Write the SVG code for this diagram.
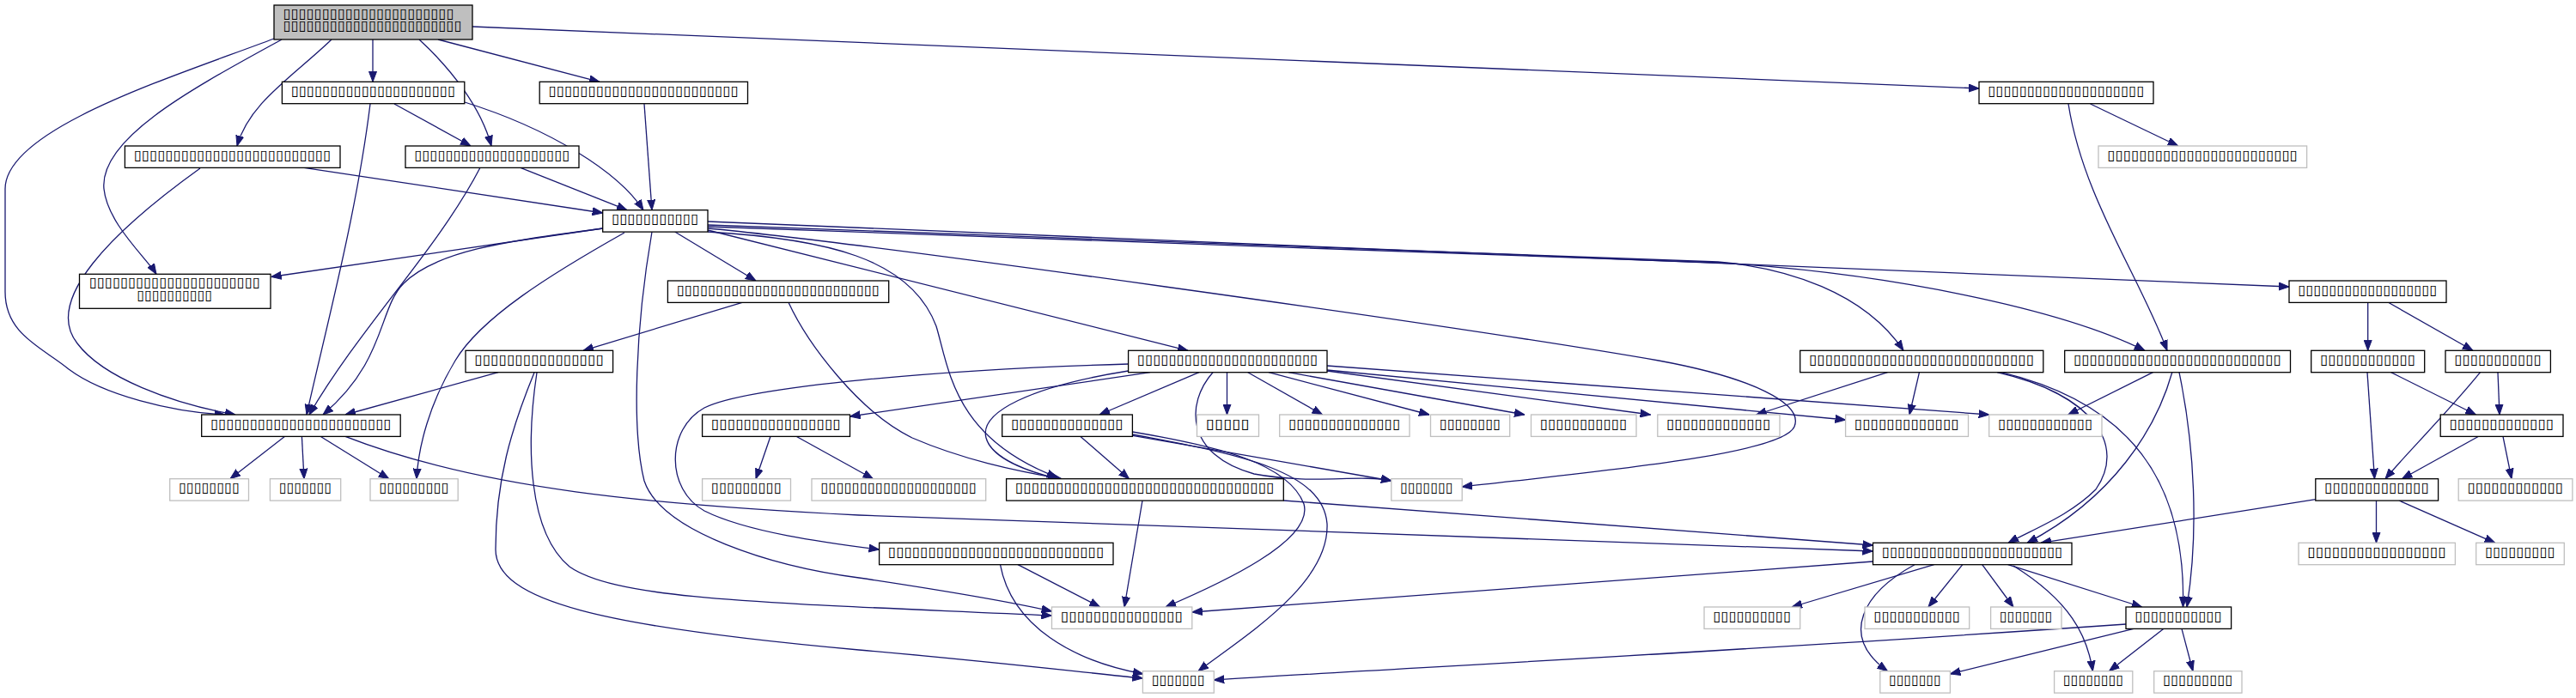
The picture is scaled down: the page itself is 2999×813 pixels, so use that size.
<svg xmlns="http://www.w3.org/2000/svg" width="2999" height="813" viewBox="0 0 2999 813">
<style>
.n rect{fill:#fff;stroke:#000;stroke-width:1.3}
.u rect{fill:#fff;stroke:#bfbfbf;stroke-width:1.3}
.t rect{fill:#bfbfbf;stroke:#000;stroke-width:1.3}
text{font-family:"DejaVu Sans",sans-serif;font-size:16px;fill:#000}
#edges path{fill:none;stroke:#191970;stroke-width:1.3;marker-end:url(#a)}
</style>
<defs>
<marker id="a" markerWidth="12" markerHeight="10" refX="12" refY="5" orient="auto" markerUnits="userSpaceOnUse"><path d="M0,0.5 L12,5 L0,9.5 z" fill="#191970" stroke="#191970" stroke-width="1"/></marker>
</defs>
<rect width="2999" height="813" fill="#fff"/>
<g id="edges">
<path d="M434,46 L434,95.3"/>
<path d="M510,46 L698,95.3"/>
<path d="M488,46 C525,80 560,125 572,170"/>
<path d="M386,46 C340,90 290,120 276,170"/>
<path d="M328,46 C230,100 115,160 121,220 C125,260 170,300 182,319.3"/>
<path d="M319,45 C200,90 6,150 6,220 L6,340 C6,390 50,405 80,430 C120,460 200,480 262,483"/>
<path d="M550,31 L2304,103"/>
<path d="M459,121 L548,170"/>
<path d="M541,119 C640,150 720,200 749,244.7"/>
<path d="M431,121 C415,250 380,380 357,483"/>
<path d="M750,121 L759,244.7"/>
<path d="M2433.6,121 L2535.7,170"/>
<path d="M2408,121 C2425,230 2490,320 2523,408.3"/>
<path d="M354,195.3 L701.7,248"/>
<path d="M233,196 C130,270 50,350 90,400 C120,440 200,470 274,483"/>
<path d="M606,195.3 L730,244.7"/>
<path d="M559,195.3 C510,290 420,380 360,483"/>
<path d="M701.7,266 L315.7,322.5"/>
<path d="M702,266 C600,280 510,290 470,330 C440,360 450,420 376,483"/>
<path d="M785.7,270 L880,327"/>
<path d="M727,271 C640,320 560,370 530,420 C500,470 487,520 485,557.7"/>
<path d="M759,270 C740,380 735,500 750,560 C770,620 900,660 1000,673 C1100,688 1180,702 1224.5,712"/>
<path d="M824,268 L1383,408.3"/>
<path d="M824,270 C960,278 1060,300 1090,380 C1105,430 1110,510 1231,556"/>
<path d="M824,266 C1000,282 1700,380 1931,420 C2040,440 2100,470 2089,497 C2075,530 1850,550 1702,567"/>
<path d="M824,258 L2665,334"/>
<path d="M824,262 L2000,305 C2080,312 2170,340 2216,408.3"/>
<path d="M824,264 L2000,306 C2200,318 2400,360 2497,408.3"/>
<path d="M864,352.3 L679,408.3"/>
<path d="M918,352.3 C940,400 1000,480 1062,510 C1120,535 1180,548 1236,557.7"/>
<path d="M2756.7,352.3 L2756.7,408.3"/>
<path d="M2780.5,352.3 L2879,408.3"/>
<path d="M580,433.7 L402,483"/>
<path d="M625,434 C612,520 615,620 663,660 C720,700 900,702 1224.5,717"/>
<path d="M622,434 C595,500 577,560 577,640 C577,700 700,730 1000,757 C1150,770 1250,782 1330.4,790"/>
<path d="M1339,433.7 L989.5,485"/>
<path d="M1313.6,424 C1100,430 870,450 820,475 C775,500 775,570 820,595 C870,620 960,632 1023.6,640"/>
<path d="M1313.6,432 C1200,450 1140,480 1148,510 C1155,535 1200,550 1232,557.7"/>
<path d="M1396,433.7 L1280,483"/>
<path d="M1428.5,433.7 L1428.5,483"/>
<path d="M1452.8,433.7 L1539.6,483"/>
<path d="M1477,433.7 L1664,483"/>
<path d="M1500,433.7 L1775,483"/>
<path d="M1545,432 L1921.6,483"/>
<path d="M1545,431 L2148.6,489"/>
<path d="M1545,426 L2315.7,483"/>
<path d="M1412,433.7 C1380,470 1380,530 1460,552 C1530,565 1580,552 1620,560"/>
<path d="M331.6,508.3 L268,557.7"/>
<path d="M351.4,508.3 L354,557.7"/>
<path d="M373,508.3 L452.8,557.7"/>
<path d="M402,508.3 C560,570 760,588 1000,600 L2180.5,642"/>
<path d="M897,508.3 L880,557.7"/>
<path d="M927,508.3 L1016.5,557.7"/>
<path d="M1257.7,508.3 L1314.6,557.7"/>
<path d="M1318.4,503 C1420,520 1500,540 1518,587 C1530,630 1420,680 1357,707"/>
<path d="M1318.4,506 C1450,530 1540,550 1545,610 C1548,680 1450,740 1395,781.7"/>
<path d="M1318.4,507.3 L1619.8,560"/>
<path d="M1330,583 L1309,707"/>
<path d="M1494.3,583 L2180.5,635"/>
<path d="M1185,657.7 L1280.6,707"/>
<path d="M1164.5,657.7 C1178,730 1250,770 1331,785"/>
<path d="M2180.5,654 L1387.8,713"/>
<path d="M2251.6,657.7 L2086,707"/>
<path d="M2284.8,657.7 L2245,707"/>
<path d="M2307.7,657.7 L2344,707"/>
<path d="M2337.7,657.7 L2493.7,707"/>
<path d="M2229,657.7 C2170,690 2140,740 2197.5,781.7"/>
<path d="M2344,659 C2410,700 2430,740 2436.4,781.7"/>
<path d="M2484,732.3 L2270.4,785"/>
<path d="M2519,732.3 L2455.5,781.7"/>
<path d="M2540,732.3 L2553,781.7"/>
<path d="M2475,727 C2000,760 1600,780 1413.3,792"/>
<path d="M2197.5,433.7 L2044.6,483"/>
<path d="M2234.5,433.7 L2223,483"/>
<path d="M2325,433.7 C2440,460 2475,520 2440,570 C2410,600 2370,615 2338,632.3"/>
<path d="M2330,433.7 C2480,470 2545,560 2541.5,707"/>
<path d="M2506.5,433.7 L2407.7,483"/>
<path d="M2528.8,433.7 C2510,500 2460,580 2360,632.3"/>
<path d="M2537,433.7 C2555,520 2560,620 2546,707"/>
<path d="M2756,433.7 L2764.5,557.7"/>
<path d="M2783.6,433.7 L2882.4,483"/>
<path d="M2908,433.7 L2910,483"/>
<path d="M2887.5,433.7 C2850,480 2800,530 2777,557.7"/>
<path d="M2885.6,508.3 L2796.4,557.7"/>
<path d="M2914,508.3 L2924,557.7"/>
<path d="M2695.8,581.7 L2376,632.3"/>
<path d="M2766.5,583 L2766.5,632.3"/>
<path d="M2793,583 L2904.7,632.3"/>
</g>
<g id="node-T" class="t"><rect x="319" y="6" width="231" height="40"/><text x="329.7" y="20.7" textLength="199" lengthAdjust="spacingAndGlyphs">▯▯▯▯▯▯▯▯▯▯▯▯▯▯▯▯▯▯▯▯▯▯</text><text x="329.7" y="35" textLength="208" lengthAdjust="spacingAndGlyphs">▯▯▯▯▯▯▯▯▯▯▯▯▯▯▯▯▯▯▯▯▯▯▯</text></g>
<g id="node-N2" class="n"><rect x="328.4" y="95.3" width="212.4" height="25.4"/><text x="338.9" y="110.8" textLength="191.4" lengthAdjust="spacingAndGlyphs">▯▯▯▯▯▯▯▯▯▯▯▯▯▯▯▯▯▯▯▯▯</text></g>
<g id="node-N3" class="n"><rect x="628.2" y="95.3" width="242.3" height="25.4"/><text x="638.7" y="110.8" textLength="221.3" lengthAdjust="spacingAndGlyphs">▯▯▯▯▯▯▯▯▯▯▯▯▯▯▯▯▯▯▯▯▯▯▯▯</text></g>
<g id="node-R1" class="n"><rect x="2304" y="95.3" width="203" height="25.4"/><text x="2314.5" y="110.8" textLength="182" lengthAdjust="spacingAndGlyphs">▯▯▯▯▯▯▯▯▯▯▯▯▯▯▯▯▯▯▯▯</text></g>
<g id="node-N4" class="n"><rect x="145.4" y="170" width="250.6" height="25.4"/><text x="155.9" y="185.5" textLength="229.6" lengthAdjust="spacingAndGlyphs">▯▯▯▯▯▯▯▯▯▯▯▯▯▯▯▯▯▯▯▯▯▯▯▯▯</text></g>
<g id="node-N5" class="n"><rect x="472" y="170" width="202" height="25.4"/><text x="482.5" y="185.5" textLength="181" lengthAdjust="spacingAndGlyphs">▯▯▯▯▯▯▯▯▯▯▯▯▯▯▯▯▯▯▯▯</text></g>
<g id="node-R1g" class="u"><rect x="2443" y="170" width="242.6" height="25.4"/><text x="2453.5" y="185.5" textLength="221.6" lengthAdjust="spacingAndGlyphs">▯▯▯▯▯▯▯▯▯▯▯▯▯▯▯▯▯▯▯▯▯▯▯▯</text></g>
<g id="node-C" class="n"><rect x="701.7" y="244.7" width="122.3" height="25.4"/><text x="712.2" y="260.2" textLength="101.3" lengthAdjust="spacingAndGlyphs">▯▯▯▯▯▯▯▯▯▯▯</text></g>
<g id="node-D" class="n"><rect x="92.5" y="319.3" width="222.5" height="40"/><text x="104" y="334" textLength="199" lengthAdjust="spacingAndGlyphs">▯▯▯▯▯▯▯▯▯▯▯▯▯▯▯▯▯▯▯▯▯▯</text><text x="159.4" y="348.5" textLength="88" lengthAdjust="spacingAndGlyphs">▯▯▯▯▯▯▯▯▯▯</text></g>
<g id="node-E" class="n"><rect x="777.4" y="327" width="257.3" height="25.4"/><text x="787.9" y="342.5" textLength="236.3" lengthAdjust="spacingAndGlyphs">▯▯▯▯▯▯▯▯▯▯▯▯▯▯▯▯▯▯▯▯▯▯▯▯▯▯</text></g>
<g id="node-R2" class="n"><rect x="2665" y="327" width="183" height="25.4"/><text x="2675.5" y="342.5" textLength="162" lengthAdjust="spacingAndGlyphs">▯▯▯▯▯▯▯▯▯▯▯▯▯▯▯▯▯▯</text></g>
<g id="node-F" class="n"><rect x="542" y="408.3" width="171.6" height="25.4"/><text x="552.5" y="423.8" textLength="150.6" lengthAdjust="spacingAndGlyphs">▯▯▯▯▯▯▯▯▯▯▯▯▯▯▯▯</text></g>
<g id="node-H2" class="n"><rect x="1313.6" y="408.3" width="231.4" height="25.4"/><text x="1324.1" y="423.8" textLength="210.4" lengthAdjust="spacingAndGlyphs">▯▯▯▯▯▯▯▯▯▯▯▯▯▯▯▯▯▯▯▯▯▯▯</text></g>
<g id="node-P1" class="n"><rect x="2095.7" y="408.3" width="283.1" height="25.4"/><text x="2106.2" y="423.8" textLength="262.1" lengthAdjust="spacingAndGlyphs">▯▯▯▯▯▯▯▯▯▯▯▯▯▯▯▯▯▯▯▯▯▯▯▯▯▯▯▯</text></g>
<g id="node-P2" class="n"><rect x="2403.7" y="408.3" width="262.8" height="25.4"/><text x="2414.2" y="423.8" textLength="241.8" lengthAdjust="spacingAndGlyphs">▯▯▯▯▯▯▯▯▯▯▯▯▯▯▯▯▯▯▯▯▯▯▯▯▯▯</text></g>
<g id="node-P3" class="n"><rect x="2690.7" y="408.3" width="132" height="25.4"/><text x="2701.2" y="423.8" textLength="111" lengthAdjust="spacingAndGlyphs">▯▯▯▯▯▯▯▯▯▯▯▯</text></g>
<g id="node-P4" class="n"><rect x="2847" y="408.3" width="122.4" height="25.4"/><text x="2857.5" y="423.8" textLength="101.4" lengthAdjust="spacingAndGlyphs">▯▯▯▯▯▯▯▯▯▯▯</text></g>
<g id="node-G" class="n"><rect x="234.7" y="483" width="231.5" height="25.4"/><text x="245.2" y="498.5" textLength="210.5" lengthAdjust="spacingAndGlyphs">▯▯▯▯▯▯▯▯▯▯▯▯▯▯▯▯▯▯▯▯▯▯▯</text></g>
<g id="node-H" class="n"><rect x="817.6" y="483" width="171.9" height="25.4"/><text x="828.1" y="498.5" textLength="150.9" lengthAdjust="spacingAndGlyphs">▯▯▯▯▯▯▯▯▯▯▯▯▯▯▯▯</text></g>
<g id="node-I" class="n"><rect x="1166.7" y="483" width="151.7" height="25.4"/><text x="1177.2" y="498.5" textLength="130.7" lengthAdjust="spacingAndGlyphs">▯▯▯▯▯▯▯▯▯▯▯▯▯▯</text></g>
<g id="node-g1" class="u"><rect x="1393.5" y="483" width="72" height="25.4"/><text x="1404" y="498.5" textLength="51" lengthAdjust="spacingAndGlyphs">▯▯▯▯▯</text></g>
<g id="node-g2" class="u"><rect x="1489.7" y="483" width="151.3" height="25.4"/><text x="1500.2" y="498.5" textLength="130.3" lengthAdjust="spacingAndGlyphs">▯▯▯▯▯▯▯▯▯▯▯▯▯▯</text></g>
<g id="node-g3" class="u"><rect x="1665.5" y="483" width="92.2" height="25.4"/><text x="1676" y="498.5" textLength="71.2" lengthAdjust="spacingAndGlyphs">▯▯▯▯▯▯▯▯</text></g>
<g id="node-g4" class="u"><rect x="1782.5" y="483" width="122.5" height="25.4"/><text x="1793" y="498.5" textLength="101.5" lengthAdjust="spacingAndGlyphs">▯▯▯▯▯▯▯▯▯▯▯</text></g>
<g id="node-g5" class="u"><rect x="1929.8" y="483" width="142.2" height="25.4"/><text x="1940.3" y="498.5" textLength="121.2" lengthAdjust="spacingAndGlyphs">▯▯▯▯▯▯▯▯▯▯▯▯▯</text></g>
<g id="node-g6" class="u"><rect x="2148.6" y="483" width="142.9" height="25.4"/><text x="2159.1" y="498.5" textLength="121.9" lengthAdjust="spacingAndGlyphs">▯▯▯▯▯▯▯▯▯▯▯▯▯</text></g>
<g id="node-g7" class="u"><rect x="2315.7" y="483" width="131.3" height="25.4"/><text x="2326.2" y="498.5" textLength="110.3" lengthAdjust="spacingAndGlyphs">▯▯▯▯▯▯▯▯▯▯▯▯</text></g>
<g id="node-Q" class="n"><rect x="2841.2" y="483" width="142.8" height="25.4"/><text x="2851.7" y="498.5" textLength="121.8" lengthAdjust="spacingAndGlyphs">▯▯▯▯▯▯▯▯▯▯▯▯▯</text></g>
<g id="node-l1" class="u"><rect x="197.7" y="557.7" width="91.8" height="25.4"/><text x="208.2" y="573.2" textLength="70.8" lengthAdjust="spacingAndGlyphs">▯▯▯▯▯▯▯▯</text></g>
<g id="node-l2" class="u"><rect x="314.4" y="557.7" width="82.3" height="25.4"/><text x="324.9" y="573.2" textLength="61.3" lengthAdjust="spacingAndGlyphs">▯▯▯▯▯▯▯</text></g>
<g id="node-l3" class="u"><rect x="431" y="557.7" width="102.2" height="25.4"/><text x="441.5" y="573.2" textLength="81.2" lengthAdjust="spacingAndGlyphs">▯▯▯▯▯▯▯▯▯</text></g>
<g id="node-h1" class="u"><rect x="817.6" y="557.7" width="102.9" height="25.4"/><text x="828.1" y="573.2" textLength="81.9" lengthAdjust="spacingAndGlyphs">▯▯▯▯▯▯▯▯▯</text></g>
<g id="node-h2" class="u"><rect x="945" y="557.7" width="202.7" height="25.4"/><text x="955.5" y="573.2" textLength="181.7" lengthAdjust="spacingAndGlyphs">▯▯▯▯▯▯▯▯▯▯▯▯▯▯▯▯▯▯▯▯</text></g>
<g id="node-J" class="n"><rect x="1171.6" y="557.7" width="322.7" height="25.4"/><text x="1182.1" y="573.2" textLength="301.7" lengthAdjust="spacingAndGlyphs">▯▯▯▯▯▯▯▯▯▯▯▯▯▯▯▯▯▯▯▯▯▯▯▯▯▯▯▯▯▯▯▯</text></g>
<g id="node-j1" class="u"><rect x="1619.8" y="557.7" width="82.4" height="25.4"/><text x="1630.3" y="573.2" textLength="61.4" lengthAdjust="spacingAndGlyphs">▯▯▯▯▯▯▯</text></g>
<g id="node-S" class="n"><rect x="2695.8" y="557.7" width="142.8" height="25.4"/><text x="2706.3" y="573.2" textLength="121.8" lengthAdjust="spacingAndGlyphs">▯▯▯▯▯▯▯▯▯▯▯▯▯</text></g>
<g id="node-s1" class="u"><rect x="2862.2" y="557.7" width="132.7" height="25.4"/><text x="2872.7" y="573.2" textLength="111.7" lengthAdjust="spacingAndGlyphs">▯▯▯▯▯▯▯▯▯▯▯▯</text></g>
<g id="node-K" class="n"><rect x="1023.6" y="632.3" width="272.4" height="25.4"/><text x="1034.1" y="647.8" textLength="251.4" lengthAdjust="spacingAndGlyphs">▯▯▯▯▯▯▯▯▯▯▯▯▯▯▯▯▯▯▯▯▯▯▯▯▯▯▯</text></g>
<g id="node-M" class="n"><rect x="2180.5" y="632.3" width="231.5" height="25.4"/><text x="2191" y="647.8" textLength="210.5" lengthAdjust="spacingAndGlyphs">▯▯▯▯▯▯▯▯▯▯▯▯▯▯▯▯▯▯▯▯▯▯▯</text></g>
<g id="node-m1" class="u"><rect x="2676" y="632.3" width="182.4" height="25.4"/><text x="2686.5" y="647.8" textLength="161.4" lengthAdjust="spacingAndGlyphs">▯▯▯▯▯▯▯▯▯▯▯▯▯▯▯▯▯</text></g>
<g id="node-m2" class="u"><rect x="2882.7" y="632.3" width="102.6" height="25.4"/><text x="2893.2" y="647.8" textLength="81.6" lengthAdjust="spacingAndGlyphs">▯▯▯▯▯▯▯▯▯</text></g>
<g id="node-X" class="u"><rect x="1224.5" y="707" width="163.3" height="25.4"/><text x="1235" y="722.5" textLength="142.3" lengthAdjust="spacingAndGlyphs">▯▯▯▯▯▯▯▯▯▯▯▯▯▯▯</text></g>
<g id="node-n1" class="u"><rect x="1984" y="707" width="111.7" height="25.4"/><text x="1994.5" y="722.5" textLength="90.7" lengthAdjust="spacingAndGlyphs">▯▯▯▯▯▯▯▯▯▯</text></g>
<g id="node-n2" class="u"><rect x="2171" y="707" width="121.7" height="25.4"/><text x="2181.5" y="722.5" textLength="100.7" lengthAdjust="spacingAndGlyphs">▯▯▯▯▯▯▯▯▯▯▯</text></g>
<g id="node-n3" class="u"><rect x="2317.6" y="707" width="82.4" height="25.4"/><text x="2328.1" y="722.5" textLength="61.4" lengthAdjust="spacingAndGlyphs">▯▯▯▯▯▯▯</text></g>
<g id="node-V" class="n"><rect x="2475" y="707" width="122.6" height="25.4"/><text x="2485.5" y="722.5" textLength="101.6" lengthAdjust="spacingAndGlyphs">▯▯▯▯▯▯▯▯▯▯▯</text></g>
<g id="node-Y" class="u"><rect x="1330.4" y="781.7" width="82.9" height="25.4"/><text x="1340.9" y="797.2" textLength="61.9" lengthAdjust="spacingAndGlyphs">▯▯▯▯▯▯▯</text></g>
<g id="node-o1" class="u"><rect x="2188.8" y="781.7" width="81.6" height="25.4"/><text x="2199.3" y="797.2" textLength="60.6" lengthAdjust="spacingAndGlyphs">▯▯▯▯▯▯▯</text></g>
<g id="node-o2" class="u"><rect x="2391.6" y="781.7" width="91.2" height="25.4"/><text x="2402.1" y="797.2" textLength="70.2" lengthAdjust="spacingAndGlyphs">▯▯▯▯▯▯▯▯</text></g>
<g id="node-o3" class="u"><rect x="2507.7" y="781.7" width="102.3" height="25.4"/><text x="2518.2" y="797.2" textLength="81.3" lengthAdjust="spacingAndGlyphs">▯▯▯▯▯▯▯▯▯</text></g>
</svg>
